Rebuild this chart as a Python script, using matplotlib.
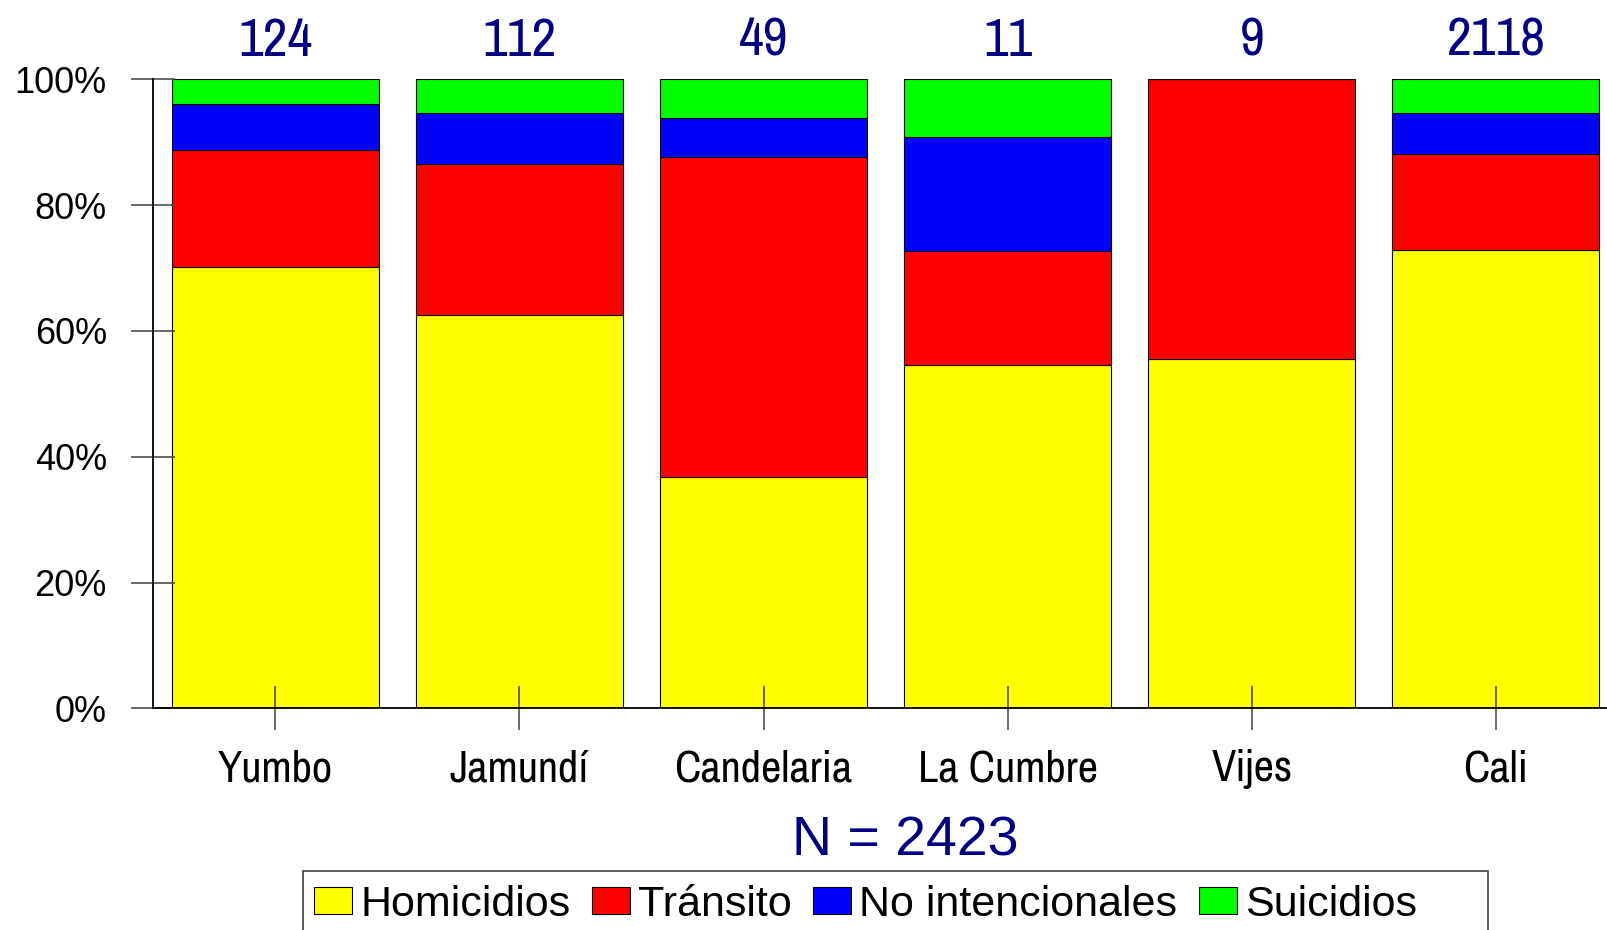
import matplotlib
matplotlib.use("Agg")
import matplotlib.pyplot as plt
from matplotlib import font_manager
from matplotlib.patches import Rectangle
import numpy as np

municipios = ["Yumbo", "Jamundí", "Candelaria", "La Cumbre", "Vijes", "Cali"]
totales = [124, 112, 49, 11, 9, 2118]
n_total = 2423

categorias = ["Homicidios", "Tránsito", "No intencionales", "Suicidios"]
homicidios = [70.2, 62.5, 36.7, 54.5, 55.6, 72.9]
transito = [18.5, 24.1, 51.0, 18.2, 44.4, 15.3]
no_intencionales = [7.3, 8.0, 6.1, 18.2, 0.0, 6.4]
suicidios = [4.0, 5.4, 6.2, 9.1, 0.0, 5.4]
colores = ["#ffff00", "#ff0000", "#0000ff", "#00ff00"]

NAVY = "#000080"

# condensed face for the bar labels (Arial Narrow look-alike)
names = {f.name for f in font_manager.fontManager.ttflist}
narrow = next((n for n in ["Liberation Sans Narrow", "Archivo Narrow", "Roboto Condensed"]
               if n in names), "Liberation Sans")
plt.rcParams["font.family"] = ["Liberation Sans", "DejaVu Sans"]

W, H = 1608, 930
fig = plt.figure(figsize=(W / 100, H / 100), dpi=100)
left, right = 153.3, 1618.0
top, bottom = 79.3, 708.3
ax = fig.add_axes([left / W, 1 - bottom / H, (right - left) / W, (bottom - top) / H])

x = np.arange(len(municipios))
base = np.zeros(len(municipios))
for serie, nombre, color in zip([homicidios, transito, no_intencionales, suicidios],
                                categorias, colores):
    ax.bar(x, serie, bottom=base, width=0.848, color=color, edgecolor="black",
           linewidth=0.8, label=nombre)
    base += np.array(serie)

ax.set_xlim(-0.5, len(municipios) - 0.5)
ax.set_ylim(0, 100)
ax.set_yticks([0, 20, 40, 60, 80, 100])
ax.set_yticklabels([f"{v}%" for v in [0, 20, 40, 60, 80, 100]])
ax.set_xticks(x)
ax.set_xticklabels(municipios, fontfamily=narrow, fontsize=32)
ax.tick_params(axis="y", direction="inout", length=31, width=1.2, color="#505050",
               labelsize=26, pad=18)
ax.tick_params(axis="x", direction="inout", length=31, width=1.2, color="#505050",
               pad=14)
for s in ["top", "right"]:
    ax.spines[s].set_visible(False)
for s in ["left", "bottom"]:
    ax.spines[s].set_linewidth(1.3)

for xi, t in zip(x, totales):
    ax.annotate(str(t), xy=(xi, 100), xytext=(0, 17), textcoords="offset points",
                ha="center", va="baseline", fontsize=39, color=NAVY,
                fontfamily=narrow, annotation_clip=False)

fig.text(905 / W, 1 - 855 / H, f"N = {n_total}", ha="center", va="baseline",
         fontsize=40, color=NAVY)

fig.patches.append(Rectangle((303 / W, -0.05), (1488 - 303) / W, 0.05 + 1 - 871 / H,
                             transform=fig.transFigure, fill=False,
                             edgecolor="#404040", linewidth=1.2))
fig.legend(loc="center left", bbox_to_anchor=(314 / W, 1 - 905 / H), ncol=4,
           frameon=False, fontsize=31, handlelength=0.88, handleheight=0.6,
           handletextpad=0.19, columnspacing=0.5, borderpad=0, borderaxespad=0)

fig.savefig("out.png", dpi=100)
